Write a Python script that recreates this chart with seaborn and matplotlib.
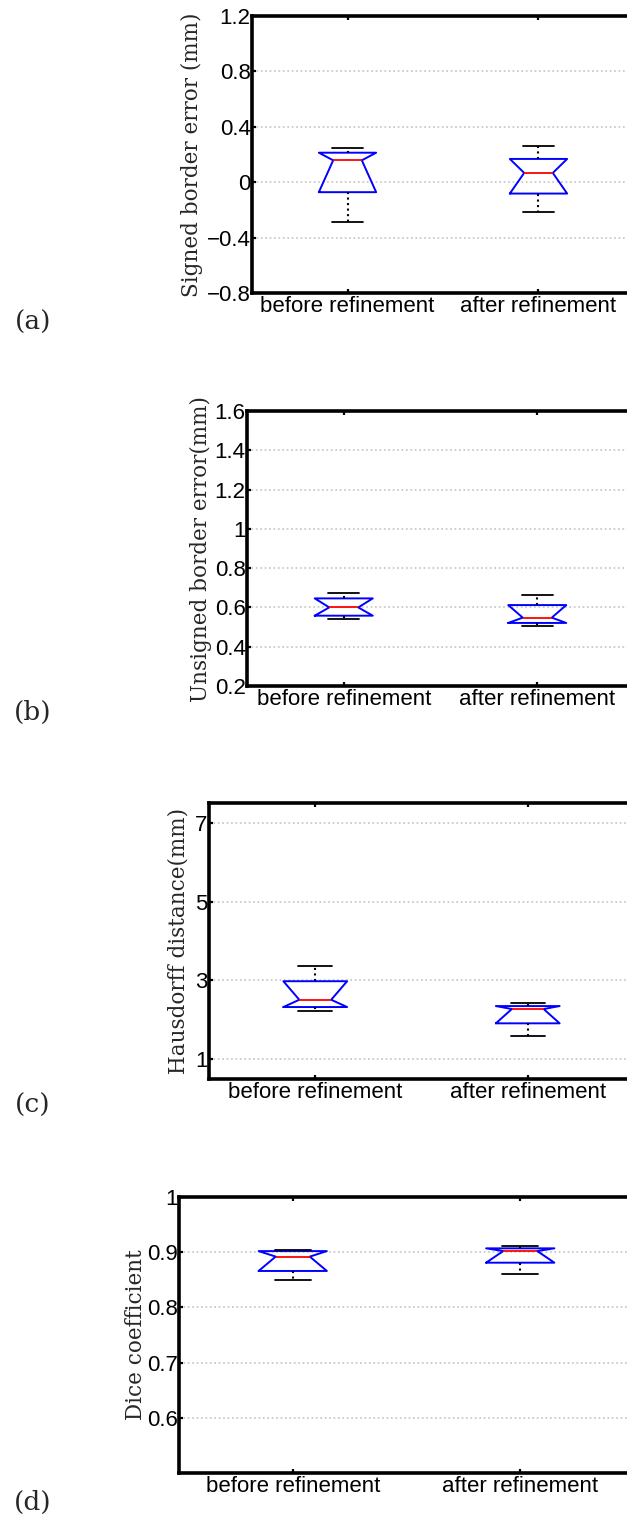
import matplotlib
matplotlib.use("Agg")
import matplotlib.pyplot as plt
import seaborn as sns
import numpy as np

# group names
groups = ['before refinement', 'after refinement']

# five-number summaries: [whisker low, q1, median, q3, whisker high]
signed_before = [-0.284, -0.072, 0.158, 0.213, 0.249]
signed_after = [-0.217, -0.082, 0.067, 0.168, 0.259]
unsigned_before = [0.539, 0.558, 0.600, 0.646, 0.673]
unsigned_after = [0.505, 0.521, 0.548, 0.612, 0.665]
hausdorff_before = [2.23, 2.325, 2.51, 2.98, 3.36]
hausdorff_after = [1.583, 1.912, 2.274, 2.35, 2.417]
dice_before = [0.849, 0.866, 0.892, 0.902, 0.904]
dice_after = [0.860, 0.881, 0.902, 0.907, 0.912]

ylabels = ['Signed border error (mm)', 'Unsigned border error(mm)',
           'Hausdorff distance(mm)', 'Dice coefficient']
panel_tags = ['(a)', '(b)', '(c)', '(d)']
ylims = [(-0.8, 1.2), (0.2, 1.6), (0.5, 7.5), (0.5, 1.0)]
yticks = [[-0.8, -0.4, 0, 0.4, 0.8, 1.2],
          [0.2, 0.4, 0.6, 0.8, 1, 1.2, 1.4, 1.6],
          [1, 3, 5, 7],
          [0.6, 0.7, 0.8, 0.9, 1]]
ytick_labels = [['\u22120.8', '\u22120.4', '0', '0.4', '0.8', '1.2'],
                ['0.2', '0.4', '0.6', '0.8', '1', '1.2', '1.4', '1.6'],
                ['1', '3', '5', '7'],
                ['0.6', '0.7', '0.8', '0.9', '1']]

sns.set_style("white")
plt.rcParams['font.family'] = ['Liberation Sans', 'DejaVu Sans']

W, H = 627, 1519
fig = plt.figure(figsize=(W / 100, H / 100), dpi=100)

# axes boxes in pixels: left, top, bottom (right edge runs past the page)
boxes = [(252, 16, 293), (247, 411, 686), (209, 803, 1079), (179, 1197, 1473)]
label_x = [203, 212, 190, 147]
tag_y = [322, 712, 1105, 1502]

data = [(signed_before, signed_after), (unsigned_before, unsigned_after),
        (hausdorff_before, hausdorff_after), (dice_before, dice_after)]


def summary(v, name):
    lo, q1, med, q3, hi = v
    # notch ends drawn at the quartiles, as in the original figure
    return dict(label=name, whislo=lo, q1=q1, med=med, q3=q3, whishi=hi,
                cilo=q1, cihi=q3, fliers=[])


for i, (l, t, b) in enumerate(boxes):
    right = 634
    ax = fig.add_axes([l / W, (H - b) / H, (right - l) / W, (b - t) / H])
    stats = [summary(v, g) for v, g in zip(data[i], groups)]
    ax.bxp(stats, positions=[1, 2], widths=0.3, capwidths=0.16,
           shownotches=True, showfliers=False,
           boxprops=dict(color='blue', linewidth=1.4),
           medianprops=dict(color='red', linewidth=1.3),
           whiskerprops=dict(color='black', linestyle=':', linewidth=1.5),
           capprops=dict(color='black', linewidth=1.3))
    ax.set_xlim(0.5, 2.5)
    ax.set_ylim(*ylims[i])
    ax.set_yticks(yticks[i])
    ax.set_yticklabels(ytick_labels[i])
    ax.set_xticks([1, 2])
    ax.set_xticklabels(groups)
    ax.yaxis.grid(True, linestyle=':', color='#c4c4c4', linewidth=1.2)
    ax.xaxis.grid(False)
    for s in ax.spines.values():
        s.set_linewidth(2.6)
        s.set_color('black')
    ax.tick_params(axis='both', direction='in', length=3, width=1.6,
                   labelsize=16, colors='black', top=True, left=True,
                   bottom=True, pad=2)
    ax.tick_params(axis='y', pad=1)
    ax.set_ylabel(ylabels[i], family=['DejaVu Serif'], fontsize=15.5)
    ax.yaxis.set_label_coords((label_x[i] - l) / (right - l), 0.5)
    fig.text(33 / W, 1 - tag_y[i] / H, panel_tags[i], family=['DejaVu Serif'],
             fontsize=19, ha='center', va='center')

fig.savefig('out.png', dpi=100)
